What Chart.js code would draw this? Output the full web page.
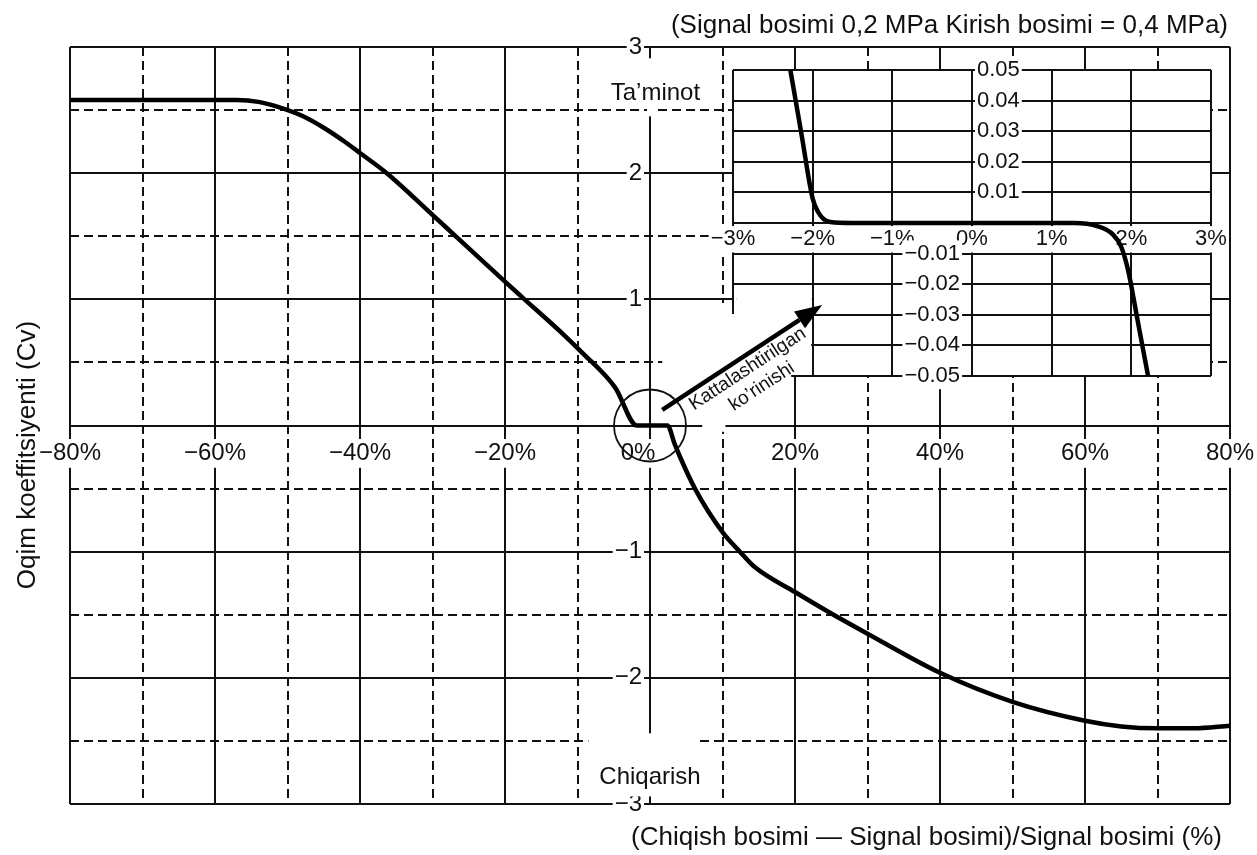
<!DOCTYPE html>
<html>
<head>
<meta charset="utf-8">
<script src="https://cdn.jsdelivr.net/npm/chart.js@4.4.1/dist/chart.umd.min.js"></script>
<style>
  html, body { margin: 0; background: #fff; }
  .wrap { position: relative; width: 1257px; height: 855px; }
  #main { position: absolute; left: 0; top: 0; }
  #zoom { position: absolute; left: 640px; top: 50px; }
</style>
</head>
<body>
<div class="wrap">
  <canvas id="main" width="1257" height="855"></canvas>
  <canvas id="zoom" width="591" height="390"></canvas>
</div>
<script>
// main curve: (output - signal)/signal in %, flow coefficient Cv
const mainPct = [-80, -70, -60, -57, -54, -51, -48, -45, -42, -40,
                 -36.3, -30, -26.9, -20, -17.5, -12, -9.4, -4.8, -1.8, 0,
                 2.4, 3.4, 4, 6.2, 10, 12.4, 14.4, 20, 25, 30,
                 40, 50, 60, 65, 70, 75, 80];
const mainCv = [2.58, 2.58, 2.58, 2.58, 2.565, 2.52, 2.455, 2.36, 2.245, 2.16,
                2.0, 1.67, 1.505, 1.14, 1.01, 0.725, 0.58, 0.30, 0, 0,
                0, -0.145, -0.23, -0.5, -0.845, -1.0, -1.12, -1.32, -1.49, -1.65,
                -1.96, -2.19, -2.34, -2.385, -2.40, -2.40, -2.38];

// enlarged view around 0%
const zoomPct = [-2.28, -2.14, -2.0, -1.93, -1.86, -1.78, -1.5, 0, 1.0, 1.28,
                 1.58, 1.77, 1.87, 1.96, 2.08, 2.21];
const zoomCv = [0.05, 0.029, 0.008, 0.0035, 0.0012, 0.0003, 0, 0, 0, 0,
                -0.0011, -0.0038, -0.0076, -0.0155, -0.032, -0.05];

const titleTop = '(Signal bosimi 0,2 MPa Kirish bosimi = 0,4 MPa)';
const titleX = '(Chiqish bosimi \u2014 Signal bosimi)/Signal bosimi (%)';
const titleY = 'Oqim koeffitsiyenti (Cv)';
const supplyText = 'Ta\u2019minot';
const exhaustText = 'Chiqarish';
const arrowText = ['Kattalashtirilgan', 'ko\u2019rinishi'];

// blank area around the arrow (main axis units)
const maskPoly = [[1.69, 0.971], [10.79, 0.971], [10.79, 0.884], [11.89, 0.884], [11.89, 1.074],
                  [22.23, 1.074], [22.23, 0.408], [19.47, 0.408], [19.47, 0.036], [1.69, 0.036]];
const arrowFrom = [1.69, 0.123], arrowTo = [23.74, 0.955];

const FONT = "'Liberation Sans', Arial, sans-serif";
const INK = '#111';
Chart.defaults.font.family = FONT;
Chart.defaults.color = INK;

const fmt = v => (v < 0 ? '\u2212' : '') + Math.abs(v);
const dashEvery = major => ctx => {
  if (!ctx.tick) return [];
  const r = ctx.tick.value / major;
  return Math.abs(r - Math.round(r)) > 1e-6 ? [9, 5] : [];
};
const px = (c, x, y) => [c.scales.x.getPixelForValue(x), c.scales.y.getPixelForValue(y)];

function textBox(ctx, text, x, y, size, align) {
  ctx.font = size + 'px ' + FONT;
  ctx.textAlign = align || 'center';
  ctx.textBaseline = 'middle';
  const w = ctx.measureText(text).width;
  const left = align === 'right' ? x - w : align === 'left' ? x : x - w / 2;
  ctx.fillStyle = '#fff';
  ctx.fillRect(left - 2, y - size * 0.5, w + 4, size);
  ctx.fillStyle = INK;
  ctx.fillText(text, x, y);
}

function polyPath(ctx, c, dx, dy) {
  ctx.beginPath();
  maskPoly.forEach(([x, y], i) => {
    const [X, Y] = px(c, x, y);
    if (i) ctx.lineTo(X - dx, Y - dy); else ctx.moveTo(X - dx, Y - dy);
  });
  ctx.closePath();
}

const mainDeco = {
  id: 'mainDeco',
  beforeDatasetsDraw(c) {
    const ctx = c.ctx;
    ctx.save();
    ctx.fillStyle = '#fff';
    polyPath(ctx, c, 0, 0);
    ctx.fill();
    // small break in the x axis line right of the circle
    const [gx1, gy1] = px(c, 7.2, 0.025);
    const [gx2, gy2] = px(c, 10.4, -0.05);
    ctx.fillRect(gx1, gy1, gx2 - gx1, gy2 - gy1);
    ctx.restore();
  },
  afterDraw(c) {
    const ctx = c.ctx, a = c.chartArea;
    ctx.save();
    ctx.fillStyle = '#fff';
    // gaps in the vertical axis
    let [x0, yt] = px(c, 0, 2.91);
    let [, yb] = px(c, 0, 2.45);
    ctx.fillRect(x0 - 3, yt, 6, yb - yt);
    let [xl, y1] = px(c, -8.5, -2.44);
    let [xr, y2] = px(c, 6.4, -2.94);
    ctx.fillRect(xl, y1, xr - xl, y2 - y1);

    let [tx, ty] = px(c, 0.75, 2.63);
    textBox(ctx, supplyText, tx, ty, 24);
    [tx, ty] = px(c, 0, -2.79);
    textBox(ctx, exhaustText, tx, ty, 24);

    // circle around origin
    const [cx, cy] = px(c, 0, 0);
    ctx.strokeStyle = INK;
    ctx.lineWidth = 1.8;
    ctx.beginPath();
    ctx.arc(cx, cy, 36, 0, Math.PI * 2);
    ctx.stroke();

    // titles
    ctx.fillStyle = INK;
    ctx.font = '26px ' + FONT;
    ctx.textBaseline = 'middle';
    ctx.textAlign = 'right';
    ctx.fillText(titleTop, a.right - 2, a.top - 21);
    ctx.fillText(titleX, a.right - 8, a.bottom + 34);
    ctx.translate(a.left - 42, c.scales.y.getPixelForValue(-0.234));
    ctx.rotate(-Math.PI / 2);
    ctx.textAlign = 'center';
    ctx.fillText(titleY, 0, 0);
    ctx.restore();
  }
};

const mainChart = new Chart(document.getElementById('main'), {
  type: 'line',
  data: {
    datasets: [{
      data: mainPct.map((x, i) => ({ x, y: mainCv[i] })),
      borderColor: '#000',
      borderWidth: 4.5,
      pointRadius: 0,
      cubicInterpolationMode: 'monotone',
      fill: false
    }]
  },
  options: {
    responsive: false,
    animation: false,
    devicePixelRatio: 1,
    events: [],
    layout: { padding: { left: 70, right: 27, top: 47, bottom: 51 } },
    plugins: { legend: { display: false }, tooltip: { enabled: false } },
    scales: {
      x: {
        type: 'linear', min: -80, max: 80,
        position: { y: -0.107 },
        ticks: {
          stepSize: 10, autoSkip: false, maxRotation: 0, padding: 0,
          font: { size: 24 }, color: INK,
          callback: v => v % 20 === 0 ? (v === 0 ? '0%\u2003' : fmt(v) + '%') : '',
          showLabelBackdrop: c => c.tick.value % 20 === 0,
          backdropColor: '#fff', backdropPadding: { x: 2, y: 0 }
        },
        grid: { color: INK, lineWidth: 2, drawTicks: false },
        border: { display: false, dash: dashEvery(20) }
      },
      y: {
        min: -3, max: 3,
        position: { x: -1.1 },
        ticks: {
          stepSize: 0.5, autoSkip: false, padding: 0,
          font: { size: 24 }, color: INK,
          callback: v => (Number.isInteger(v) && v !== 0) ? fmt(v) : '',
          showLabelBackdrop: c => Number.isInteger(c.tick.value) && c.tick.value !== 0,
          backdropColor: '#fff', backdropPadding: { x: 2, y: 0 }
        },
        grid: { color: INK, lineWidth: 2, drawTicks: false },
        border: { display: false, dash: dashEvery(1) }
      }
    }
  },
  plugins: [mainDeco]
});

const zoomCanvas = document.getElementById('zoom');
const zoomDeco = {
  id: 'zoomDeco',
  beforeDraw(c) {
    const a = c.chartArea, ctx = c.ctx;
    ctx.save();
    ctx.fillStyle = '#fff';
    ctx.fillRect(a.left - 1, a.top - 1, a.right - a.left + 2, a.bottom - a.top + 2);
    ctx.restore();
  },
  beforeDatasetsDraw(c) {
    const ctx = c.ctx;
    ctx.save();
    ctx.globalCompositeOperation = 'destination-out';
    polyPath(ctx, mainChart, zoomCanvas.offsetLeft, zoomCanvas.offsetTop);
    ctx.fill();
    ctx.restore();
  },
  afterDraw(c) {
    const ctx = c.ctx, dx = zoomCanvas.offsetLeft, dy = zoomCanvas.offsetTop;
    let [x1, y1] = px(mainChart, ...arrowFrom);
    let [x2, y2] = px(mainChart, ...arrowTo);
    x1 -= dx; y1 -= dy; x2 -= dx; y2 -= dy;
    const ang = Math.atan2(y2 - y1, x2 - x1);
    const hl = 27, hw = 10;
    const bx = x2 - hl * Math.cos(ang), by = y2 - hl * Math.sin(ang);
    ctx.save();
    ctx.strokeStyle = '#000';
    ctx.fillStyle = '#000';
    ctx.lineWidth = 4.5;
    ctx.beginPath();
    ctx.moveTo(x1, y1);
    ctx.lineTo(bx, by);
    ctx.stroke();
    ctx.beginPath();
    ctx.moveTo(x2, y2);
    ctx.lineTo(bx + hw * Math.sin(ang), by - hw * Math.cos(ang));
    ctx.lineTo(bx - hw * Math.sin(ang), by + hw * Math.cos(ang));
    ctx.closePath();
    ctx.fill();

    ctx.font = '19px ' + FONT;
    ctx.fillStyle = INK;
    ctx.textAlign = 'center';
    ctx.textBaseline = 'middle';
    [[13.48, 0.448], [15.41, 0.309]].forEach(([vx, vy], i) => {
      const [X, Y] = px(mainChart, vx, vy);
      ctx.save();
      ctx.translate(X - dx, Y - dy);
      ctx.rotate(ang);
      ctx.fillText(arrowText[i], 0, 0);
      ctx.restore();
    });
    ctx.restore();
  }
};

const zoomTick = () => ({
  padding: 0, autoSkip: false, font: { size: 22 }, color: INK,
  backdropColor: '#fff', backdropPadding: { x: 2, y: 0 }
});

new Chart(zoomCanvas, {
  type: 'line',
  data: {
    datasets: [{
      data: zoomPct.map((x, i) => ({ x, y: zoomCv[i] })),
      borderColor: '#000',
      borderWidth: 4.5,
      pointRadius: 0,
      cubicInterpolationMode: 'monotone',
      fill: false,
      yAxisID: 'y'
    }]
  },
  options: {
    responsive: false,
    animation: false,
    devicePixelRatio: 1,
    events: [],
    layout: { padding: { left: 93, right: 20, top: 20, bottom: 64 } },
    plugins: { legend: { display: false }, tooltip: { enabled: false } },
    scales: {
      x: {
        type: 'linear', min: -3, max: 3,
        position: { y: -0.001 },
        ticks: Object.assign(zoomTick(), {
          stepSize: 1, maxRotation: 0,
          callback: v => fmt(v) + '%',
          showLabelBackdrop: true
        }),
        grid: { color: INK, lineWidth: 2, drawTicks: false },
        border: { display: false }
      },
      y: {
        min: -0.05, max: 0.05,
        position: { x: -0.15 },
        ticks: Object.assign(zoomTick(), {
          stepSize: 0.01,
          callback: v => v < -1e-9 ? '\u2212' + Math.abs(v).toFixed(2) : '',
          showLabelBackdrop: c => c.tick.value < -1e-9
        }),
        grid: { color: INK, lineWidth: 2, drawTicks: false },
        border: { display: false }
      },
      y2: {
        min: -0.05, max: 0.05,
        position: { x: 0.6 },
        ticks: Object.assign(zoomTick(), {
          stepSize: 0.01,
          callback: v => v > 1e-9 ? v.toFixed(2) : '',
          showLabelBackdrop: c => c.tick.value > 1e-9
        }),
        grid: { display: false },
        border: { display: false }
      }
    }
  },
  plugins: [zoomDeco]
});
</script>
</body>
</html>
